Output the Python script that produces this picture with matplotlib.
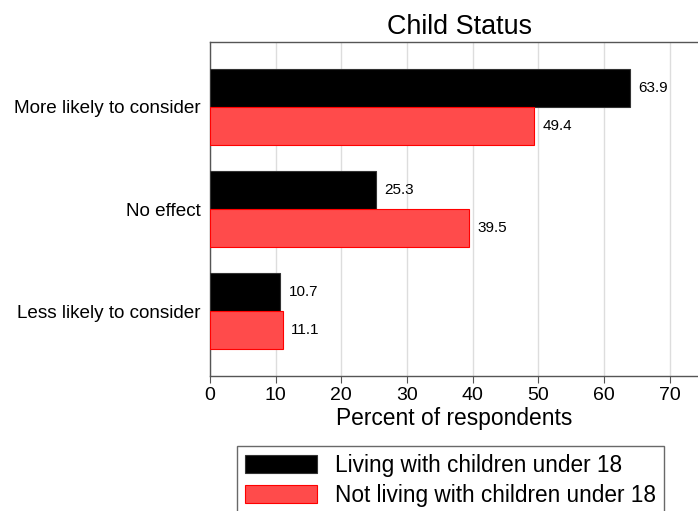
import matplotlib
matplotlib.use("Agg")
import matplotlib.pyplot as plt
import numpy as np

plt.rcParams['font.family'] = ['Liberation Sans', 'DejaVu Sans']

categories = ["More likely to consider", "No effect", "Less likely to consider"]
series_names = ["Living with children under 18", "Not living with children under 18"]
living = [63.9, 25.3, 10.7]
not_living = [49.4, 39.5, 11.1]
xticks = [0, 10, 20, 30, 40, 50, 60, 70]

fig = plt.figure(figsize=(6.98, 5.11), dpi=100)
ax = fig.add_axes([210/698, 1-376/511, 1-210/698, (376-42)/511])

y = np.arange(len(categories))
h = 0.3725
b1 = ax.barh(y - h/2, living, height=h, color="black", edgecolor="#333333", linewidth=0.8, label=series_names[0], zorder=3)
b2 = ax.barh(y + h/2, not_living, height=h, color="#FF4B4B", edgecolor="#FF0000", linewidth=0.8, label=series_names[1], zorder=3)

for bars, vals in ((b1, living), (b2, not_living)):
    for rect, v in zip(bars, vals):
        ax.annotate(f"{v:.1f}", (rect.get_width(), rect.get_y() + rect.get_height()/2),
                    xytext=(6, 0), textcoords="offset points", va="center", ha="left", fontsize=11)

ax.set_ylim(2.637, -0.637)
ax.set_xlim(0, 74.3)
ax.set_yticks(y)
ax.set_yticklabels(categories, fontsize=13.6)
ax.set_xticks(xticks)
ax.set_xticklabels([str(t) for t in xticks], fontsize=14)
ax.tick_params(axis='y', length=0, pad=7)
ax.tick_params(axis='x', length=5, color="#555555", pad=3)
ax.grid(axis='x', color="#dddddd", linewidth=1, zorder=0)
ax.set_axisbelow(True)
for s in ("left", "top", "bottom"):
    ax.spines[s].set_color("#555555")
    ax.spines[s].set_linewidth(1)
ax.spines["right"].set_visible(False)

ax.set_xlabel("Percent of respondents", fontsize=16.4, labelpad=2)
ax.set_title("Child Status", fontsize=19.4, pad=6, x=0.512)

leg = fig.legend(handles=[b1, b2], labels=series_names, loc="upper left",
                 bbox_to_anchor=(237/698, 1-446/511), fontsize=16.3, frameon=True,
                 fancybox=False, edgecolor="#444444", handlelength=3.2, handleheight=0.88,
                 borderpad=0.35, labelspacing=0.3, handletextpad=0.8, borderaxespad=0)
leg.get_frame().set_linewidth(1)

fig.savefig("out.png", dpi=100)
